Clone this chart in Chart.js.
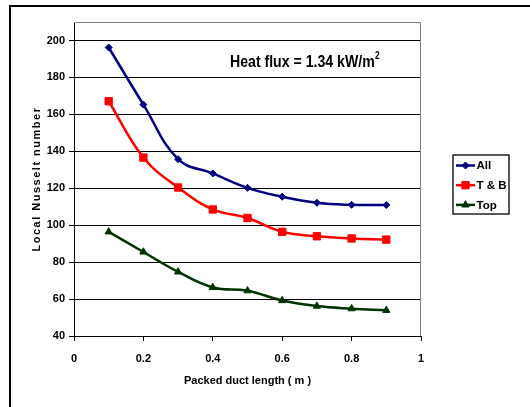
<!DOCTYPE html>
<html>
<head>
<meta charset="utf-8">
<script src="https://cdn.jsdelivr.net/npm/chart.js@4/dist/chart.umd.min.js"></script>
<style>
  html, body { margin: 0; padding: 0; background: #fff; }
  canvas { display: block; }
</style>
</head>
<body>
<canvas id="chartNusselt" width="530" height="407"></canvas>
<script>
// data
const ductLength = [0.1, 0.2, 0.3, 0.4, 0.5, 0.6, 0.7, 0.8, 0.9];
const nuAll = [196.2, 165.3, 135.7, 128.0, 120.2, 115.4, 112.1, 111.0, 110.9];
const nuTopBottom = [167.1, 136.6, 120.4, 108.5, 103.9, 96.4, 94.0, 92.8, 92.2];
const nuTop = [96.4, 85.5, 74.7, 66.3, 64.5, 59.2, 56.2, 54.8, 53.9];
const seriesNames = ['All', 'T & B', 'Top'];
const yTicks = [40, 60, 80, 100, 120, 140, 160, 180, 200];
const xTicks = [0, 0.2, 0.4, 0.6, 0.8, 1];

const FONT = '"Liberation Sans", Arial, sans-serif';

function toPoints(values) {
    return values.map((v, i) => ({ x: ductLength[i], y: v }));
}

const styles = [
    { color: '#000080', pointStyle: 'rectRot', radius: 3.5 },
    { color: '#ff0000', pointStyle: 'rect', radius: 5.2 },
    { color: '#003300', pointStyle: 'triangle', radius: 4.2 }
];

const seriesValues = [nuAll, nuTopBottom, nuTop];

const datasets = seriesValues.map((vals, i) => ({
    label: seriesNames[i],
    data: toPoints(vals),
    borderColor: styles[i].color,
    backgroundColor: styles[i].color,
    borderWidth: 2.5,
    pointStyle: styles[i].pointStyle,
    pointRadius: styles[i].radius,
    pointBorderWidth: 1,
    tension: 0.4
}));

const decorations = {
    id: 'decorations',
    beforeDraw(chart) {
        const ctx = chart.ctx;
        ctx.save();
        ctx.fillStyle = '#fff';
        ctx.fillRect(0, 0, chart.width, chart.height);
        // outer frame
        ctx.strokeStyle = '#000';
        ctx.lineWidth = 2;
        ctx.beginPath();
        ctx.moveTo(10, chart.height);
        ctx.lineTo(10, 6);
        ctx.lineTo(chart.width, 6);
        ctx.stroke();
        ctx.restore();
    },
    beforeDatasetsDraw(chart) {
        const { ctx, chartArea: a } = chart;
        ctx.save();
        ctx.strokeStyle = '#808080';
        ctx.lineWidth = 1;
        ctx.beginPath();
        ctx.moveTo(a.left, a.top + 0.5);
        ctx.lineTo(a.right - 0.5, a.top + 0.5);
        ctx.lineTo(a.right - 0.5, a.bottom);
        ctx.stroke();
        ctx.restore();
    },
    afterDraw(chart) {
        const { ctx, chartArea: a } = chart;
        ctx.save();
        ctx.fillStyle = '#000';

        // y title
        ctx.translate(37, (a.top + a.bottom) / 2);
        ctx.rotate(-Math.PI / 2);
        ctx.font = 'bold 11px ' + FONT;
        ctx.letterSpacing = '1.5px';
        ctx.textAlign = 'center';
        ctx.textBaseline = 'middle';
        ctx.fillText('Local Nusselt number', 0, 0);
        ctx.setTransform(1, 0, 0, 1, 0, 0);
        ctx.letterSpacing = '0px';

        // x title
        ctx.font = 'bold 11px ' + FONT;
        ctx.fillText('Packed duct length ( m )', (a.left + a.right) / 2, 381);

        // annotation (condensed horizontally, like the narrow face in the original)
        ctx.save();
        ctx.translate(230, 67);
        ctx.scale(0.83, 1);
        ctx.textAlign = 'left';
        ctx.textBaseline = 'alphabetic';
        ctx.font = 'bold 17px ' + FONT;
        const txt = 'Heat flux = 1.34 kW/m';
        ctx.fillText(txt, 0, 0);
        const w = ctx.measureText(txt).width;
        ctx.font = 'bold 10px ' + FONT;
        ctx.fillText('2', w + 0.5, -8);
        ctx.restore();

        // legend
        ctx.textAlign = 'left';
        ctx.strokeStyle = '#000';
        ctx.lineWidth = 1.3;
        ctx.strokeRect(453, 155, 56, 59);
        chart.data.datasets.forEach((ds, i) => {
            const y = 165.5 + i * 19.7;
            ctx.strokeStyle = ds.borderColor;
            ctx.lineWidth = 2.5;
            ctx.beginPath();
            ctx.moveTo(456, y);
            ctx.lineTo(475, y);
            ctx.stroke();
            ctx.fillStyle = ds.backgroundColor;
            ctx.strokeStyle = ds.borderColor;
            ctx.lineWidth = 1;
            Chart.helpers.drawPoint(ctx, {
                pointStyle: ds.pointStyle,
                radius: ds.pointRadius,
                borderWidth: 1
            }, 465.5, y);
            ctx.fillStyle = '#000';
            ctx.font = 'bold 11.5px ' + FONT;
            ctx.textBaseline = 'middle';
            ctx.fillText(ds.label, 476.5, y + 0.5);
        });
        ctx.restore();
    }
};

const ctx = document.getElementById('chartNusselt').getContext('2d');
new Chart(ctx, {
    type: 'line',
    data: { datasets: datasets },
    options: {
        responsive: false,
        animation: false,
        devicePixelRatio: 1,
        layout: { padding: { left: 0, top: 22, right: 109, bottom: 0 } },
        plugins: {
            legend: { display: false },
            tooltip: { enabled: false }
        },
        scales: {
            x: {
                type: 'linear',
                min: 0,
                max: 1,
                afterFit: (scale) => { scale.height = 71; },
                afterBuildTicks: (scale) => {
                    scale.ticks = xTicks.map(v => ({ value: v }));
                },
                border: { color: '#000', width: 1 },
                grid: {
                    drawOnChartArea: false,
                    drawTicks: true,
                    tickLength: 5,
                    tickColor: '#000',
                    color: '#000'
                },
                ticks: {
                    padding: 11,
                    color: '#000',
                    maxRotation: 0,
                    font: { family: FONT, size: 11, weight: 'bold' },
                    callback: (v) => String(Math.round(v * 10) / 10)
                }
            },
            y: {
                min: 40,
                max: 210,
                afterFit: (scale) => { scale.width = 74; },
                afterBuildTicks: (scale) => {
                    scale.ticks = yTicks.map(v => ({ value: v }));
                },
                border: { color: '#000', width: 1 },
                grid: {
                    color: '#000',
                    lineWidth: 1,
                    drawTicks: true,
                    tickLength: 5,
                    tickColor: '#000'
                },
                ticks: {
                    padding: 4,
                    color: '#000',
                    font: { family: FONT, size: 11, weight: 'bold' }
                }
            }
        }
    },
    plugins: [decorations]
});
</script>
</body>
</html>
